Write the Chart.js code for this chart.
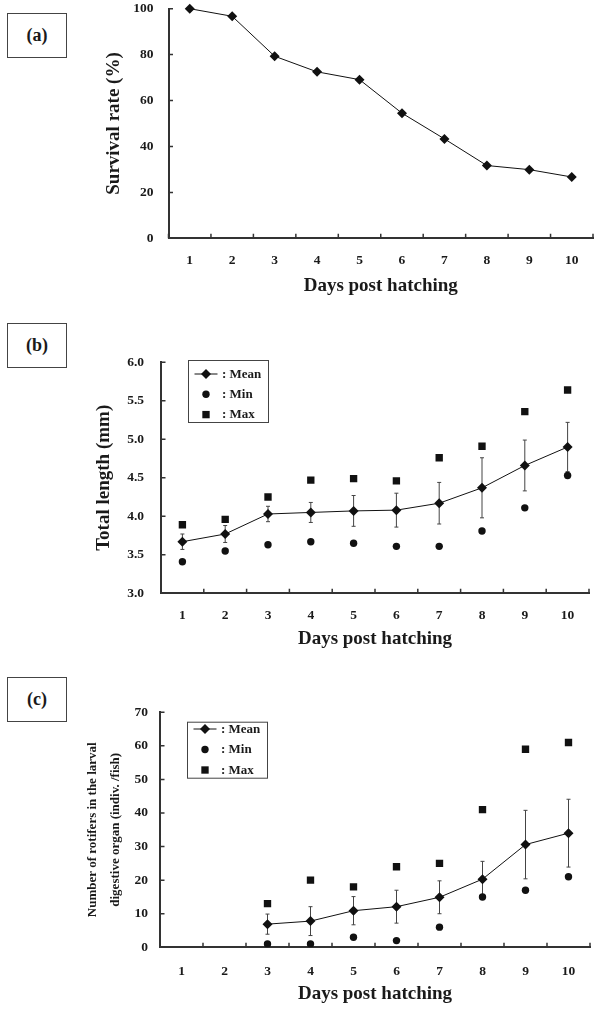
<!DOCTYPE html>
<html>
<head>
<meta charset="utf-8">
<script src="https://cdn.jsdelivr.net/npm/chart.js@4"></script>
<style>
  html, body { margin: 0; padding: 0; background: #fff; }
  #page { position: relative; width: 598px; height: 1010px; overflow: hidden; }
  canvas { position: absolute; left: 0; }
  .tag {
    position: absolute; left: 7px; width: 60px; height: 45px;
    box-sizing: border-box; border: 1px solid #444; background: #fff;
    display: flex; align-items: center; justify-content: center;
    font: bold 18px 'Liberation Serif', 'Times New Roman', serif; color: #1a1a1a;
  }
</style>
</head>
<body>
<div id="page">
  <canvas id="chartA" width="598" height="305" style="top:0"></canvas>
  <canvas id="chartB" width="598" height="355" style="top:305px"></canvas>
  <canvas id="chartC" width="598" height="350" style="top:660px"></canvas>
  <div class="tag" style="top:13px">(a)</div>
  <div class="tag" style="top:323px">(b)</div>
  <div class="tag" style="top:677px">(c)</div>
</div>
<script>
// Days post hatching
const days = ['1', '2', '3', '4', '5', '6', '7', '8', '9', '10'];

// (a) survival rate, %
const survivalRate = [100, 96.7, 79.3, 72.5, 69.1, 54.5, 43.3, 31.7, 29.9, 26.7];

// (b) total length, mm
const lengthMean = [3.67, 3.77, 4.03, 4.05, 4.07, 4.08, 4.17, 4.37, 4.66, 4.90];
const lengthSD   = [0.10, 0.11, 0.10, 0.13, 0.20, 0.22, 0.27, 0.39, 0.33, 0.32];
const lengthMin  = [3.41, 3.55, 3.63, 3.67, 3.65, 3.61, 3.61, 3.81, 4.11, 4.53];
const lengthMax  = [3.89, 3.96, 4.25, 4.47, 4.49, 4.46, 4.76, 4.91, 5.36, 5.64];

// (c) rotifers in the larval digestive organ, indiv./fish
const rotiferMean = [null, null, 6.9, 7.8, 10.9, 12.1, 14.9, 20.3, 30.6, 34.0];
const rotiferSD   = [null, null, 3.0, 4.3, 4.2, 4.9, 4.9, 5.3, 10.2, 10.1];
const rotiferMin  = [null, null, 1, 1, 3, 2, 6, 15, 17, 21];
const rotiferMax  = [null, null, 13, 20, 18, 24, 25, 41, 59, 61];

const INK = '#111';
const AXIS = '#333';
const SERIF = "'Liberation Serif', 'Times New Roman', serif";
const TICK_SIZE = 13.5;

Chart.defaults.font.family = SERIF;
Chart.defaults.font.weight = 'bold';
Chart.defaults.color = '#1a1a1a';

// Short inward tick marks on both axes
const innerTicks = {
  id: 'innerTicks',
  afterDraw(chart) {
    const { ctx, chartArea: a, scales: { x, y } } = chart;
    ctx.save();
    ctx.strokeStyle = AXIS;
    ctx.lineWidth = 1.5;
    ctx.beginPath();
    y.ticks.forEach((t, i) => {
      const py = y.getPixelForTick(i);
      ctx.moveTo(a.left, py);
      ctx.lineTo(a.left + 4.5, py);
    });
    for (let i = 0; i <= x.ticks.length; i++) {
      const px = x.getPixelForValue(i - 0.5);
      ctx.moveTo(px, a.bottom);
      ctx.lineTo(px, a.bottom - 4.5);
    }
    ctx.stroke();
    ctx.restore();
  }
};

// Mean ± SD bars drawn from the y scale
const errorBars = {
  id: 'errorBars',
  beforeDatasetsDraw(chart, args, opts) {
    if (!opts || !opts.mean) return;
    const { ctx, scales: { x, y } } = chart;
    ctx.save();
    ctx.strokeStyle = '#444';
    ctx.lineWidth = 1;
    ctx.beginPath();
    opts.mean.forEach((m, i) => {
      const sd = opts.sd[i];
      if (m == null || sd == null) return;
      const px = x.getPixelForValue(i);
      const top = y.getPixelForValue(m + sd);
      const bot = y.getPixelForValue(m - sd);
      ctx.moveTo(px, top); ctx.lineTo(px, bot);
      ctx.moveTo(px - 2, top); ctx.lineTo(px + 2, top);
      ctx.moveTo(px - 2, bot); ctx.lineTo(px + 2, bot);
    });
    ctx.stroke();
    ctx.restore();
  }
};

function marker(ctx, style, cx, cy, r) {
  ctx.beginPath();
  if (style === 'rectRot') {
    ctx.moveTo(cx - r, cy); ctx.lineTo(cx, cy - r); ctx.lineTo(cx + r, cy); ctx.lineTo(cx, cy + r);
    ctx.closePath();
  } else if (style === 'rect') {
    const s = r * Math.SQRT1_2;
    ctx.rect(cx - s, cy - s, 2 * s, 2 * s);
  } else {
    ctx.arc(cx, cy, r, 0, Math.PI * 2);
  }
  ctx.fill();
}

// Boxed key placed inside the plot area
const boxKey = {
  id: 'boxKey',
  afterDraw(chart, args, opts) {
    if (!opts || !opts.box) return;
    const { ctx, chartArea: a } = chart;
    const b = opts.box;
    const x0 = a.left + b.dx, y0 = a.top + b.dy;
    ctx.save();
    ctx.fillStyle = '#fff';
    ctx.fillRect(x0, y0, b.w, b.h);
    ctx.strokeStyle = '#444';
    ctx.lineWidth = 1;
    ctx.strokeRect(x0 + 0.5, y0 + 0.5, b.w, b.h);
    chart.data.datasets.forEach((ds, i) => {
      const cy = y0 + b.firstRow + i * b.rowGap;
      const mx = x0 + b.markX;
      ctx.fillStyle = INK;
      if (ds.showLine !== false) {
        ctx.strokeStyle = INK;
        ctx.lineWidth = 1;
        ctx.beginPath();
        ctx.moveTo(mx - 11.5, cy); ctx.lineTo(mx + 11.5, cy);
        ctx.stroke();
      }
      marker(ctx, ds.pointStyle, mx, cy, ds.pointRadius);
      ctx.fillStyle = '#1a1a1a';
      ctx.font = 'bold 13px ' + SERIF;
      ctx.textAlign = 'left';
      ctx.textBaseline = 'middle';
      ctx.fillText(': ' + ds.label, x0 + b.textX, cy + 0.5);
    });
    ctx.restore();
  }
};

function xScale(height, labelPad, titlePad) {
  return {
    type: 'category',
    offset: true,
    grid: { display: false, drawTicks: false },
    border: { display: true, color: AXIS, width: 2 },
    ticks: { padding: labelPad, font: { size: TICK_SIZE, weight: 'bold' }, color: '#1a1a1a', maxRotation: 0 },
    title: {
      display: true, text: 'Days post hatching',
      font: { size: 19, weight: 'bold' }, color: '#1a1a1a',
      padding: { top: 0, bottom: titlePad }
    },
    afterFit(s) { s.height = height; s.paddingLeft = 0; s.paddingRight = 0; }
  };
}

function yScale(opts) {
  return {
    type: 'linear',
    min: opts.min, max: opts.max,
    grid: { display: false, drawTicks: false },
    border: { display: true, color: AXIS, width: 2 },
    ticks: {
      stepSize: opts.step, padding: opts.labelPad,
      font: { size: TICK_SIZE, weight: 'bold' }, color: '#1a1a1a',
      callback: opts.format
    },
    title: {
      display: true, text: opts.title,
      font: { size: opts.titleSize, weight: 'bold', lineHeight: opts.titleLine || 1.2 },
      color: '#1a1a1a',
      padding: { top: opts.titlePad, bottom: 0 }
    },
    // fixed axis width; the plot top/bottom come from the layout padding alone
    afterFit(s) { s.width = opts.width; s.paddingTop = 0; s.paddingBottom = 0; }
  };
}

function meanSet(data) {
  return {
    label: 'Mean', data,
    borderColor: INK, backgroundColor: INK, borderWidth: 1,
    pointStyle: 'rectRot', pointRadius: 5, pointHoverRadius: 5,
    pointBorderWidth: 0, tension: 0, spanGaps: false
  };
}
function dotSet(label, data, style, r) {
  return {
    label, data, showLine: false,
    borderColor: INK, backgroundColor: INK,
    pointStyle: style, pointRadius: r, pointHoverRadius: r, pointBorderWidth: 0
  };
}

const common = {
  responsive: false,
  animation: false,
  devicePixelRatio: 1,
  events: [],
};

// (a) survival
new Chart(document.getElementById('chartA'), {
  type: 'line',
  data: {
    labels: days,
    datasets: [{
      label: 'Survival rate', data: survivalRate,
      borderColor: INK, backgroundColor: INK, borderWidth: 1,
      pointStyle: 'rectRot', pointRadius: 5, pointBorderWidth: 0, tension: 0,
      clip: 8
    }]
  },
  options: Object.assign({}, common, {
    layout: { padding: { top: 8.7, right: 0, left: 0, bottom: 0 } },
    plugins: { legend: { display: false }, tooltip: { enabled: false } },
    scales: {
      x: xScale(66.7, 14, 8),
      y: yScale({ min: 0, max: 100, step: 20, labelPad: 15, width: 168.5,
        title: 'Survival rate (%)', titleSize: 19, titlePad: 103 })
    }
  }),
  plugins: [innerTicks]
});

// (b) total length
new Chart(document.getElementById('chartB'), {
  type: 'line',
  data: {
    labels: days,
    datasets: [
      meanSet(lengthMean),
      dotSet('Min', lengthMin, 'circle', 3.7),
      dotSet('Max', lengthMax, 'rect', 5.2)
    ]
  },
  options: Object.assign({}, common, {
    layout: { padding: { top: 57.3, right: 9, left: 0, bottom: 0 } },
    plugins: {
      legend: { display: false }, tooltip: { enabled: false },
      errorBars: { mean: lengthMean, sd: lengthSD },
      boxKey: { box: { dx: 27, dy: -2.3, w: 80, h: 62, markX: 18, textX: 34, firstRow: 14, rowGap: 20.3 } }
    },
    scales: {
      x: xScale(66.7, 14, 9.2),
      y: yScale({ min: 3, max: 6, step: 0.5, labelPad: 17, width: 161,
        format: v => v.toFixed(1),
        title: 'Total length (mm)', titleSize: 19, titlePad: 92.6 })
    }
  }),
  plugins: [errorBars, innerTicks, boxKey]
});

// (c) rotifers ingested
new Chart(document.getElementById('chartC'), {
  type: 'line',
  data: {
    labels: days,
    datasets: [
      meanSet(rotiferMean),
      dotSet('Min', rotiferMin, 'circle', 3.7),
      dotSet('Max', rotiferMax, 'rect', 5.2)
    ]
  },
  options: Object.assign({}, common, {
    layout: { padding: { top: 52.3, right: 8, left: 0, bottom: 0 } },
    plugins: {
      legend: { display: false }, tooltip: { enabled: false },
      errorBars: { mean: rotiferMean, sd: rotiferSD },
      boxKey: { box: { dx: 27, dy: 9.4, w: 80, h: 56, markX: 18, textX: 34, firstRow: 7.3, rowGap: 20.5 } }
    },
    scales: {
      x: xScale(62.7, 16, 4.2),
      y: yScale({ min: 0, max: 70, step: 10, labelPad: 12, width: 160,
        title: ['Number of rotifers in the larval', 'digestive organ (indiv. /fish)'],
        titleSize: 13, titleLine: 1.75, titlePad: 81.5 })
    }
  }),
  plugins: [errorBars, innerTicks, boxKey]
});
</script>
</body>
</html>
